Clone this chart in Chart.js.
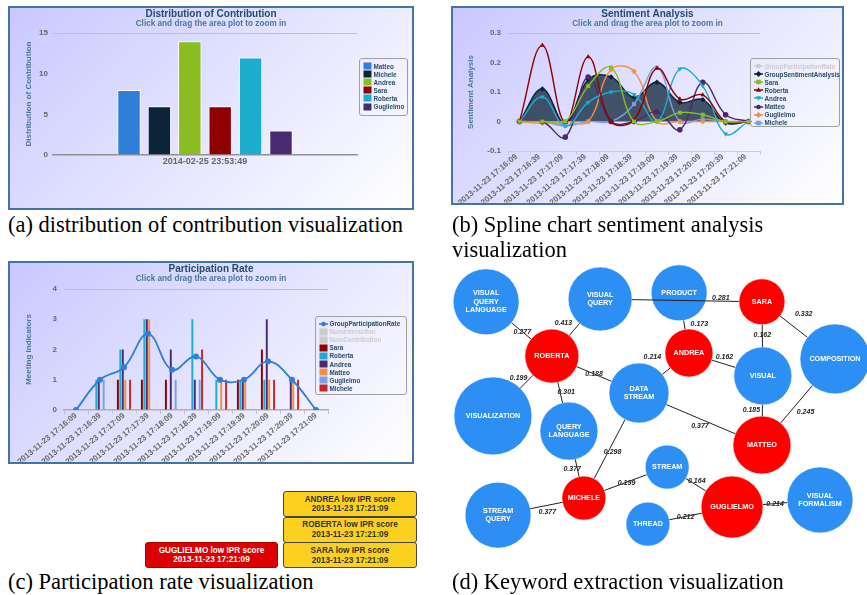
<!DOCTYPE html>
<html>
<head>
<meta charset="utf-8">
<script src="https://cdn.jsdelivr.net/npm/chart.js@4.4.1/dist/chart.umd.min.js"></script>
<style>
html,body{margin:0;padding:0;background:#fff;}
body{width:867px;height:595px;position:relative;overflow:hidden;font-family:"Liberation Sans",Arial,sans-serif;}
.panel{position:absolute;box-sizing:border-box;border:2px solid #4572a7;background:linear-gradient(135deg,rgb(200,200,255) 0%,rgb(255,255,255) 100%);}
.panel canvas{position:absolute;left:0;top:0;}
.free{position:absolute;}
.legend{position:absolute;box-sizing:border-box;border:1px solid #a0a0a0;border-radius:3px;padding:3px 0 0 3px;}
.lrow{height:8.1px;white-space:nowrap;font-weight:bold;font-size:6.3px;color:#274b6d;display:flex;align-items:center;}
.lrow canvas{width:9px;height:8px;margin-right:2px;flex:none;}
.cap{position:absolute;font-family:"Liberation Serif","Times New Roman",serif;font-size:22.5px;line-height:25px;color:#000;white-space:nowrap;}
.alert{position:absolute;box-sizing:border-box;border:1px solid #444;border-radius:3px;text-align:center;font-weight:bold;font-size:8.2px;line-height:9.7px;padding-top:2.5px;white-space:nowrap;}
.alert.warn{background:#fcd01e;color:#333;}
.alert.crit{background:#dc0000;color:#fff;border-color:#aa0000;}
</style>
</head>
<body>
<div class="panel" id="pa" style="left:8px;top:6px;width:406px;height:204px;"><canvas id="ca" width="402" height="200"></canvas></div>
<div class="panel" id="pb" style="left:451px;top:6px;width:393px;height:199px;"><canvas id="cb" width="389" height="195"></canvas></div>
<div class="panel" id="pc" style="left:8px;top:261px;width:406px;height:203px;"><canvas id="cc" width="402" height="199"></canvas></div>
<div class="free" style="left:440px;top:260px;width:427px;height:310px;"><canvas id="cd" width="427" height="310"></canvas></div>

<div class="cap" style="left:8px;top:212px;">(a) distribution of contribution visualization</div>
<div class="cap" style="left:452px;top:212px;">(b) Spline chart sentiment analysis<br>visualization</div>
<div class="cap" style="left:8px;top:569px;">(c) Participation rate visualization</div>
<div class="cap" style="left:452px;top:569px;">(d) Keyword extraction visualization</div>

<script>
// ---------------- DATA ----------------
// (a) Distribution of contribution
const contribCategory = ['2014-02-25 23:53:49'];
const contribMembers = ['Matteo', 'Michele', 'Andrea', 'Sara', 'Roberta', 'Guglielmo'];
const contribValues = [8, 6, 14, 6, 12, 3];

// shared time categories for (b) and (c)
const timeLabels = ['2013-11-23 17:16:09', '2013-11-23 17:16:39', '2013-11-23 17:17:09', '2013-11-23 17:17:39',
  '2013-11-23 17:18:09', '2013-11-23 17:18:39', '2013-11-23 17:19:09', '2013-11-23 17:19:39',
  '2013-11-23 17:20:09', '2013-11-23 17:20:39', '2013-11-23 17:21:09'];

// (b) Sentiment analysis
const sentGroup     = [0, 0.110, -0.005, 0.142, 0.151, 0.082, 0.133, 0.065, 0.074, -0.005, 0];
const sentSara      = [0, 0, 0, 0.120, 0.183, 0, 0, 0.030, 0.023, 0, 0];
const sentRoberta   = [0, 0.258, -0.003, 0.219, 0, 0.005, 0.180, 0.076, 0.090, 0, 0];
const sentAndrea    = [0, 0.083, -0.015, 0.065, 0.100, 0.092, 0, 0.178, 0.121, -0.042, 0];
const sentMatteo    = [0, 0, -0.053, 0.151, 0, 0, 0.033, -0.028, 0.133, 0.023, 0];
const sentGuglielmo = [0, -0.006, 0, 0, 0.176, 0.170, 0, 0, 0, 0, 0];
const sentMichele   = [0, 0, -0.015, 0, 0, 0.059, 0.183, 0, 0.008, 0, 0];

// (c) Participation rate
const partGroup     = [0, 1.0, 1.41, 2.52, 1.33, 1.77, 1.0, 1.0, 1.61, 1.0, 0];
const partSara      = [0, 0, 1, 1, 1, 0, 0, 1, 2, 0, 0];
const partRoberta   = [0, 1, 2, 3, 0, 3, 1, 1, 1, 0, 0];
const partAndrea    = [0, 1, 2, 3, 2, 1, 0, 1, 3, 1, 0];
const partMatteo    = [0, 0, 1, 3, 0, 0, 1, 1, 1, 1, 0];
const partGuglielmo = [0, 1, 0, 0, 1, 1, 0, 0, 0, 0, 0];
const partMichele   = [0, 0, 1, 0, 0, 2, 1, 0, 1, 1, 0];

// (d) Keyword graph
const nodeNames = ['VISUAL\nQUERY\nLANGUAGE', 'VISUAL\nQUERY', 'PRODUCT', 'SARA', 'COMPOSITION', 'ROBERTA', 'ANDREA',
  'VISUAL', 'VISUALIZATION', 'DATA\nSTREAM', 'QUERY\nLANGUAGE', 'MATTEO', 'STREAM', 'MICHELE', 'GUGLIELMO',
  'VISUAL\nFORMALISM', 'STREAM\nQUERY', 'THREAD'];
const nodeKind = ['keyword', 'keyword', 'keyword', 'member', 'keyword', 'member', 'member', 'keyword', 'keyword',
  'keyword', 'keyword', 'member', 'keyword', 'member', 'member', 'keyword', 'keyword', 'keyword'];
const nodeX = [10.8, 37.5, 56.0, 75.4, 92.5, 26.2, 58.3, 75.6, 12.4, 46.6, 30.2, 75.4, 53.2, 33.7, 68.4, 89.0, 13.6, 48.7];
const nodeY = [13.5, 12.6, 10.6, 13.5, 31.9, 31.0, 30.0, 37.4, 50.3, 42.9, 55.2, 59.7, 66.8, 76.8, 79.7, 77.4, 82.3, 85.2];
const nodeWeight = [33, 32, 28, 23, 35, 27, 24, 29, 39, 30, 29, 29, 22, 22, 31, 33, 33, 22];
const edgeFrom = [0, 1, 1, 2, 3, 3, 6, 6, 5, 5, 5, 9, 7, 4, 9, 10, 13, 12, 16, 17, 14];
const edgeTo   = [5, 5, 3, 6, 4, 7, 7, 9, 8, 9, 10, 11, 11, 11, 13, 13, 12, 14, 13, 14, 15];
const edgeWeight = [0.277, 0.413, 0.281, 0.173, 0.332, 0.162, 0.162, 0.214, 0.199, 0.188, 0.301, 0.377, 0.185,
  0.245, 0.298, 0.377, 0.199, 0.164, 0.377, 0.212, 0.214];

// alerts
const warnNames = ['ANDREA', 'ROBERTA', 'SARA'];
const critNames = ['GUGLIELMO'];
const alertTime = '2013-11-23 17:21:09';

// ---------------- STYLE / LAYOUT ----------------
const hcColors = {navy:'#0d233a', blue:'#2f7ed8', green:'#8bbc21', darkred:'#910000', cyan:'#1aadce',
  purple:'#492970', orange:'#f28f43', lightblue:'#77a1e5', red:'#c42525'};
const contribColors = [hcColors.blue, hcColors.navy, hcColors.green, hcColors.darkred, hcColors.cyan, hcColors.purple];
const edgeLabelAt = edgeFrom.map((_, k) => k === 2 ? 0.83 : 0.5);
const edgeLabelShift = [[1,1],[-11,-6],[0,-3],[15,-1],[10,-13],[0,-1],[1,-7],[-14,-14],[-8,-4],[0,0],[6,-1],
  [-1,7],[-11,0],[9,8],[3,3],[-5,1],[1,0],[1,-4],[1,7],[0,1],[0,0]];

Chart.defaults.font.family = '"Liberation Sans", Arial, sans-serif';
Chart.defaults.animation = false;
Chart.defaults.plugins.legend.display = false;
Chart.defaults.plugins.tooltip.enabled = false;

const tickFont = {size: 8, weight: 'bold'};
const titleOpts = (text) => ({display: true, text, color: '#274b6d', font: {size: 10, weight: 'bold', lineHeight: 1}, padding: {top: 1, bottom: 0}});
const subOpts = (pb) => ({display: true, text: 'Click and drag the area plot to zoom in', color: '#4d759e', font: {size: 8.2, weight: 'bold', lineHeight: 1.1}, padding: {top: 0, bottom: pb}});
const yTitle = (text, pt) => ({display: true, text, color: '#4d759e', font: {size: 8, weight: 'bold'}, padding: {top: pt, bottom: 0}});
// invisible right-hand axis that reserves room for the legend, so titles stay centred on the whole chart
const spacerAxis = (w) => ({position: 'right', display: true, grid: {display: false, drawTicks: false}, border: {display: false},
  ticks: {display: false}, afterFit: s => { s.width = w; }});

function drawMarker(g, style, x, y, r, col, rot) {
  g.fillStyle = col; g.beginPath();
  if (style === 'circle') g.arc(x, y, r, 0, Math.PI * 2);
  else if (style === 'rect') g.rect(x - r, y - r, 2 * r, 2 * r);
  else if (style === 'rectRot') { g.moveTo(x, y - r * 1.3); g.lineTo(x + r * 1.3, y); g.lineTo(x, y + r * 1.3); g.lineTo(x - r * 1.3, y); g.closePath(); }
  else if (style === 'triangle') { const s = rot ? -1 : 1; g.moveTo(x, y - s * r * 1.2); g.lineTo(x + r * 1.1, y + s * r * 0.8); g.lineTo(x - r * 1.1, y + s * r * 0.8); g.closePath(); }
  g.fill();
}
function buildLegend(box, items) {
  const el = document.createElement('div');
  el.className = 'legend';
  Object.assign(el.style, {left: box[0] + 'px', top: box[1] + 'px', width: box[2] + 'px', height: box[3] + 'px'});
  items.forEach(it => {
    const row = document.createElement('div'); row.className = 'lrow';
    const c = document.createElement('canvas'); c.width = 9; c.height = 8;
    const g = c.getContext('2d');
    const col = it.hidden ? '#cccccc' : it.color;
    if (it.kind === 'rect') { g.fillStyle = col; g.fillRect(0.5, 0.5, 8, 7); }
    else {
      g.strokeStyle = col; g.lineWidth = 1.5; g.beginPath(); g.moveTo(0, 4); g.lineTo(9, 4); g.stroke();
      drawMarker(g, it.marker, 4.5, 4, 2.3, col, it.rot);
    }
    const s = document.createElement('span'); s.textContent = it.name;
    if (it.hidden) s.style.color = '#cccccc';
    row.append(c, s); el.append(row);
  });
  document.body.append(el);
}
const onlyTopGrid = (maxVal) => (ctx) => (ctx.tick && ctx.tick.value >= maxVal - 1e-9) ? '#c0c0c0' : 'rgba(0,0,0,0)';

// ---------------- (a) ----------------
new Chart(document.getElementById('ca'), {
  type: 'bar',
  data: {
    labels: contribCategory,
    datasets: contribMembers.map((m, i) => ({
      label: m, data: [contribValues[i]], backgroundColor: contribColors[i],
      borderColor: '#ffffff', borderWidth: 1, categoryPercentage: 0.6, barPercentage: 0.77
    }))
  },
  options: {
    responsive: false,
    layout: {padding: 0, autoPadding: false},
    plugins: {title: titleOpts('Distribution of Contribution'), subtitle: subOpts(5)},
    scales: {
      x: {grid: {display: false, drawTicks: false}, border: {color: '#909090', width: 1.5},
          ticks: {font: {size: 9, weight: 'bold'}, color: '#666', padding: 1, minRotation: 0, maxRotation: 0},
          afterFit: s => { s.height = 53; }},
      y: {min: 0, max: 15, ticks: {stepSize: 5, font: tickFont, color: '#666', padding: 5},
          grid: {color: onlyTopGrid(15), drawTicks: false}, border: {display: false},
          title: yTitle('Distribution of Contribution', 13.5),
          afterFit: s => { s.width = 43; }},
      yr: spacerAxis(55)
    }
  }
});
buildLegend([358.5, 58, 49, 58], contribMembers.map((m, i) => ({name: m, color: contribColors[i], kind: 'rect'})));

// ---------------- (b) ----------------
const sentSeries = [
  {name: 'GroupSentimentAnalysis', data: sentGroup, color: hcColors.navy, marker: 'rectRot'},
  {name: 'Sara', data: sentSara, color: hcColors.green, marker: 'rect'},
  {name: 'Roberta', data: sentRoberta, color: hcColors.darkred, marker: 'triangle'},
  {name: 'Andrea', data: sentAndrea, color: hcColors.cyan, marker: 'triangle', rot: 180},
  {name: 'Matteo', data: sentMatteo, color: hcColors.purple, marker: 'circle'},
  {name: 'Guglielmo', data: sentGuglielmo, color: hcColors.orange, marker: 'rectRot'},
  {name: 'Michele', data: sentMichele, color: hcColors.lightblue, marker: 'rect'}
];
new Chart(document.getElementById('cb'), {
  type: 'line',
  data: {
    labels: timeLabels,
    datasets: sentSeries.map((s, i) => ({
      label: s.name, data: s.data, borderColor: s.color, backgroundColor: i === 0 ? 'rgba(13,35,58,0.76)' : s.color,
      pointBackgroundColor: s.color, pointBorderWidth: 0,
      fill: i === 0 ? 'origin' : false, order: i === 0 ? 1 : 0,
      borderWidth: 1.4, tension: 0.4, pointStyle: s.marker, pointRotation: s.rot || 0, pointRadius: 2.8
    }))
  },
  options: {
    responsive: false,
    layout: {padding: 0, autoPadding: false},
    plugins: {title: titleOpts('Sentiment Analysis'), subtitle: subOpts(5)},
    scales: {
      x: {offset: true, grid: {offset: true, drawOnChartArea: false, tickLength: 4, color: '#c0d0e0'},
          border: {color: '#c0d0e0', width: 1},
          ticks: {font: tickFont, color: '#666', padding: -3, labelOffset: -3, minRotation: 40, maxRotation: 40, autoSkip: false},
          afterFit: s => { s.height = 52; }},
      y: {min: -0.1, max: 0.3, ticks: {stepSize: 0.1, font: tickFont, color: '#666', padding: 7,
            callback: v => String(Math.round(v * 10) / 10)},
          grid: {color: onlyTopGrid(0.3), drawTicks: false}, border: {display: false},
          title: yTitle('Sentiment Analysis', 13.2),
          afterFit: s => { s.width = 55; }},
      yr: spacerAxis(82)
    }
  }
});
buildLegend([749.5, 58, 90, 69], [{name: 'GroupParticipationRate', color: hcColors.blue, marker: 'circle', hidden: true}]
  .concat(sentSeries.map(s => ({name: s.name, color: s.color, marker: s.marker, rot: s.rot}))));

// ---------------- (c) ----------------
const partSeries = [
  {name: 'Sara', data: partSara, color: hcColors.darkred},
  {name: 'Roberta', data: partRoberta, color: hcColors.cyan},
  {name: 'Andrea', data: partAndrea, color: hcColors.purple},
  {name: 'Matteo', data: partMatteo, color: hcColors.orange},
  {name: 'Guglielmo', data: partGuglielmo, color: hcColors.lightblue},
  {name: 'Michele', data: partMichele, color: hcColors.red}
];
new Chart(document.getElementById('cc'), {
  type: 'bar',
  data: {
    labels: timeLabels,
    datasets: [{
      type: 'line', label: 'GroupParticipationRate', data: partGroup, borderColor: hcColors.blue,
      backgroundColor: hcColors.blue, borderWidth: 1.8, tension: 0.4, pointStyle: 'circle', pointRadius: 3,
      pointBorderWidth: 0, order: -1
    }].concat(partSeries.map(s => ({
      label: s.name, data: s.data, backgroundColor: s.color, borderWidth: 0,
      categoryPercentage: 0.61, barPercentage: 0.8
    })))
  },
  options: {
    responsive: false,
    layout: {padding: 0, autoPadding: false},
    plugins: {title: titleOpts('Participation Rate'), subtitle: subOpts(6)},
    scales: {
      x: {grid: {offset: true, drawOnChartArea: false, tickLength: 4, color: '#c0c0c0'},
          border: {color: '#b0b0b0', width: 1.5},
          ticks: {font: tickFont, color: '#666', padding: -3, minRotation: 40, maxRotation: 40, autoSkip: false},
          afterFit: s => { s.height = 52; }},
      y: {min: 0, max: 4, ticks: {stepSize: 1, font: tickFont, color: '#666', padding: 7},
          grid: {color: onlyTopGrid(4), drawTicks: false}, border: {display: false},
          title: yTitle('Meeting Indicators', 14.2),
          afterFit: s => { s.width = 54; }},
      yr: spacerAxis(84)
    }
  }
});
buildLegend([314.5, 315.5, 92.5, 79],
  [{name: 'GroupParticipationRate', color: hcColors.blue, marker: 'circle'},
   {name: 'NumInteraction', color: '#ccc', kind: 'rect', hidden: true},
   {name: 'NumContribution', color: '#ccc', kind: 'rect', hidden: true}]
  .concat(partSeries.map(s => ({name: s.name, color: s.color, kind: 'rect'}))));

// ---------------- (d) ----------------
const graphDecor = {
  id: 'graphDecor',
  afterDatasetsDraw(chart) {
    const {ctx, scales: {x, y}} = chart;
    const px = i => x.getPixelForValue(nodeX[i]);
    const py = i => y.getPixelForValue(nodeY[i]);
    ctx.save();
    edgeFrom.forEach((a, k) => {
      const b = edgeTo[k];
      const x1 = px(a), y1 = py(a), x2 = px(b), y2 = py(b);
      const d = Math.hypot(x2 - x1, y2 - y1), ux = (x2 - x1) / d, uy = (y2 - y1) / d;
      const r1 = nodeWeight[a], r2 = nodeWeight[b];
      ctx.beginPath();
      ctx.moveTo(x1 + ux * r1, y1 + uy * r1);
      ctx.lineTo(x2 - ux * r2, y2 - uy * r2);
      ctx.strokeStyle = '#222'; ctx.lineWidth = 1; ctx.stroke();
      const dist = r1 + (d - r1 - r2) * edgeLabelAt[k];
      const lx = x1 + ux * dist + edgeLabelShift[k][0], ly = y1 + uy * dist + edgeLabelShift[k][1];
      ctx.font = 'italic bold 7px "Liberation Sans", Arial, sans-serif';
      ctx.fillStyle = '#222'; ctx.textAlign = 'center'; ctx.textBaseline = 'middle';
      ctx.fillText(edgeWeight[k].toFixed(3), lx, ly);
    });
    ctx.font = 'bold 7.2px "Liberation Sans", Arial, sans-serif';
    ctx.fillStyle = '#ffffff'; ctx.textAlign = 'center'; ctx.textBaseline = 'middle';
    nodeNames.forEach((n, i) => {
      const lines = n.split('\n');
      const lh = 8.5;
      lines.forEach((ln, j) => ctx.fillText(ln, px(i), py(i) + (j - (lines.length - 1) / 2) * lh));
    });
    ctx.restore();
  }
};
new Chart(document.getElementById('cd'), {
  type: 'bubble',
  data: {
    datasets: [{
      data: nodeX.map((v, i) => ({x: v, y: nodeY[i], r: nodeWeight[i]})),
      backgroundColor: nodeKind.map(k => k === 'member' ? '#ff0000' : '#2d8ff3'),
      borderColor: 'rgba(255,255,255,0.6)', borderWidth: 1, hoverRadius: 0, clip: false
    }]
  },
  options: {
    responsive: false,
    layout: {padding: 0, autoPadding: false},
    scales: {
      x: {type: 'linear', min: 0, max: 100, display: false},
      y: {type: 'linear', min: 0, max: 100, reverse: true, display: false}
    }
  },
  plugins: [graphDecor]
});

// ---------------- alerts ----------------
warnNames.forEach((n, i) => {
  const el = document.createElement('div');
  el.className = 'alert warn';
  Object.assign(el.style, {left: '283px', top: (491 + i * 25.7) + 'px', width: '134px', height: '26px'});
  el.innerHTML = n + ' low IPR score<br>' + alertTime;
  document.body.append(el);
});
critNames.forEach(n => {
  const el = document.createElement('div');
  el.className = 'alert crit';
  Object.assign(el.style, {left: '145px', top: '542px', width: '133px', height: '26px'});
  el.innerHTML = n + ' low IPR score<br>' + alertTime;
  document.body.append(el);
});
</script>
</body>
</html>
